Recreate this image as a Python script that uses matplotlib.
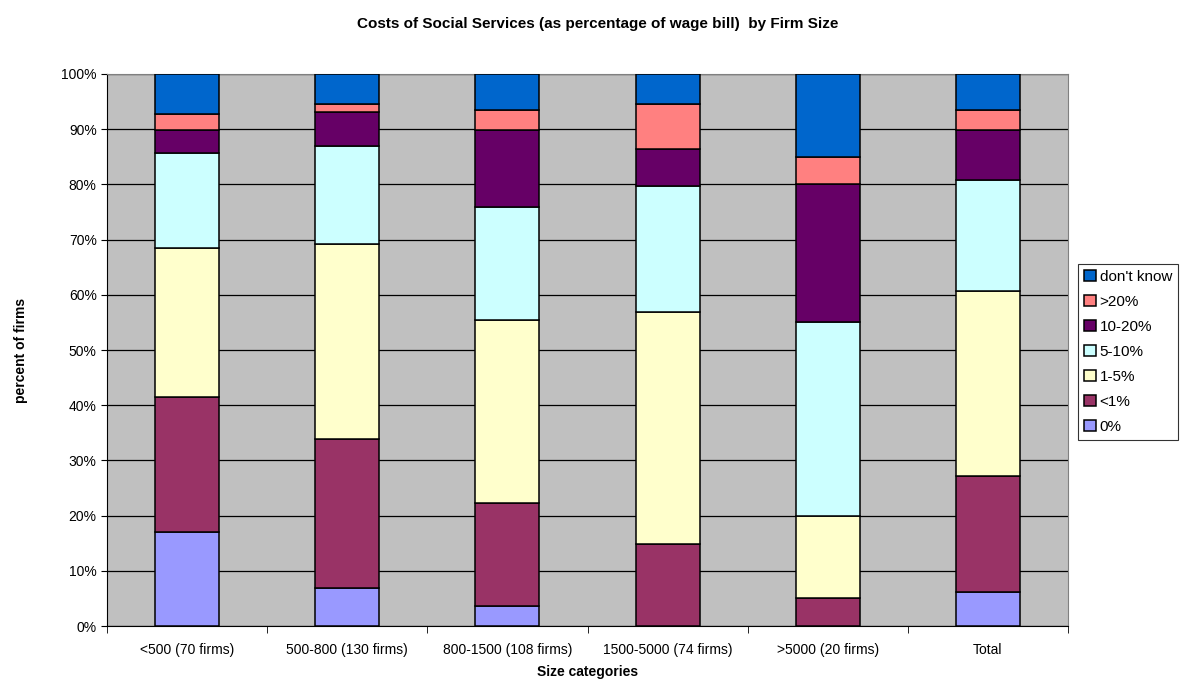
import numpy as np
import matplotlib
matplotlib.use("Agg")
import matplotlib.pyplot as plt
from matplotlib.ticker import MultipleLocator, FuncFormatter

plt.rcParams['font.family'] = ['Liberation Sans', 'DejaVu Sans']

# --- data (percent of firms) ---
categories = ["<500 (70 firms)", "500-800 (130 firms)", "800-1500 (108 firms)",
              "1500-5000 (74 firms)", ">5000 (20 firms)", "Total"]
series_names = ["0%", "<1%", "1-5%", "5-10%", "10-20%", ">20%", "don't know"]
pct_0 = [17.1, 6.9, 3.7, 0.0, 0.0, 6.2]
pct_lt1 = [24.3, 26.9, 18.5, 14.9, 5.0, 20.9]
pct_1_5 = [27.1, 35.4, 33.3, 41.9, 15.0, 33.6]
pct_5_10 = [17.1, 17.7, 20.4, 22.9, 35.0, 20.1]
pct_10_20 = [4.3, 6.2, 13.9, 6.8, 25.0, 9.0]
pct_gt20 = [2.9, 1.5, 3.7, 8.1, 5.0, 3.7]
pct_dk = [7.2, 5.4, 6.5, 5.4, 15.0, 6.5]

colors = ["#9999FF", "#993366", "#FFFFCC", "#CCFFFF", "#660066", "#FF8080", "#0066CC"]

series = [pct_0, pct_lt1, pct_1_5, pct_5_10, pct_10_20, pct_gt20, pct_dk]

fig = plt.figure(figsize=(11.96, 6.89), dpi=100)
ax = fig.add_axes([0.0895, 0.0914, 0.8035, 0.8012])
ax.set_facecolor("#C0C0C0")

x = np.arange(len(categories))
bottom = np.zeros(len(categories))
handles = []
for name, vals, col in zip(series_names, series, colors):
    vals = np.array(vals)
    h = ax.bar(x, vals, 0.4, bottom=bottom, color=col, edgecolor="black",
               linewidth=1.1, label=name, zorder=3)
    handles.append(h)
    bottom += vals

ax.set_xlim(-0.5, len(categories) - 0.5)
ax.set_ylim(0, 100)
ax.yaxis.set_major_locator(MultipleLocator(10))
ax.yaxis.set_major_formatter(FuncFormatter(lambda v, p: f"{int(v)}%"))
ax.grid(axis="y", color="black", linewidth=0.9, zorder=1)

ax.set_xticks(x)
ax.set_xticklabels(categories, fontsize=10)
ax.tick_params(axis="x", length=0, pad=12)
ax.set_xticks(np.arange(-0.5, len(categories)), minor=True)
ax.tick_params(axis="x", which="minor", length=5, direction="out")
ax.tick_params(axis="y", labelsize=10, length=4, direction="out")

for s in ["top", "right"]:
    ax.spines[s].set_color("#808080")
for s in ["left", "bottom"]:
    ax.spines[s].set_color("black")

ax.set_xlabel("Size categories", fontsize=10, fontweight="bold", labelpad=6)
ax.set_ylabel("percent of firms", fontsize=10, fontweight="bold", labelpad=24)
fig.suptitle("Costs of Social Services (as percentage of wage bill)  by Firm Size",
             fontsize=11, fontweight="bold", y=0.976)

leg = fig.legend(handles[::-1], series_names[::-1], loc="center left",
                 bbox_to_anchor=(0.9015, 0.489), fontsize=11, frameon=True,
                 fancybox=False, edgecolor="black", handlelength=0.75,
                 handleheight=0.75, handletextpad=0.25, borderpad=0.4,
                 labelspacing=0.72, borderaxespad=0)
leg.get_frame().set_linewidth(0.8)

fig.savefig("out.png", dpi=100)
